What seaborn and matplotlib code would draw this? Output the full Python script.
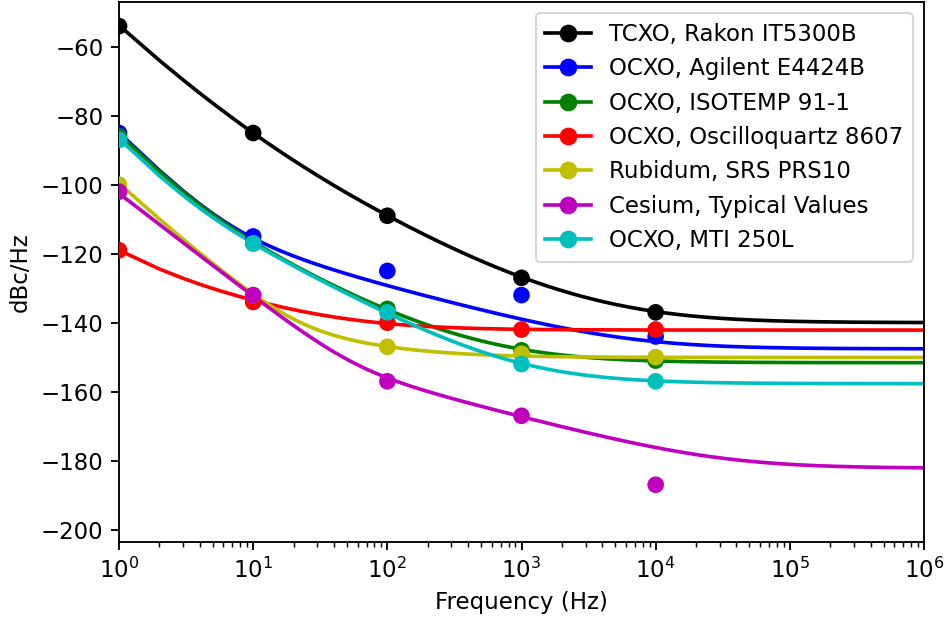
import numpy as np
import pandas as pd
import matplotlib
matplotlib.use("Agg")
import matplotlib.pyplot as plt
from matplotlib.lines import Line2D
import seaborn as sns

# ---------------- data ----------------
freq_points = [1, 10, 100, 1000, 10000]

labels = ["TCXO, Rakon IT5300B", "OCXO, Agilent E4424B", "OCXO, ISOTEMP 91-1",
          "OCXO, Oscilloquartz 8607", "Rubidum, SRS PRS10",
          "Cesium, Typical Values", "OCXO, MTI 250L"]
colors = ["k", "b", "g", "r", "y", "m", "c"]

# measured phase noise (dBc/Hz) at freq_points
tcxo_rakon = [-54, -85, -109, -127, -137]
ocxo_agilent = [-85, -115, -125, -132, -144]
ocxo_isotemp = [-86, -117, -136, -148, -151]
ocxo_oscilloquartz = [-119, -134, -140, -142, -142]
rubidium_srs = [-100, -132, -147, -149, -150]
cesium_typical = [-102, -132, -157, -167, -187]
ocxo_mti = [-87, -117, -137, -152, -157]

# fitted power-law noise model coefficients h0..h4:
# L(f) = 10*log10(h0 + h1/f + h2/f^2 + h3/f^3 + h4/f^4)
tcxo_rakon_fit = [1.0e-14, 1.0e-10, 9.8e-8, 1.96e-6, 2.14e-6]
ocxo_agilent_fit = [1.74e-15, 1.08e-11, 9.0e-11, 5.8e-10, 2.57e-9]
ocxo_isotemp_fit = [6.9e-16, 8.6e-13, 1.4e-10, 5.3e-10, 2.22e-9]
ocxo_oscilloquartz_fit = [6.1e-15, 3.25e-13, 6.0e-13, 3.3e-13, 0.0]
rubidium_srs_fit = [9.8e-16, 1.0e-13, 0.0, 5.1e-11, 5.9e-11]
cesium_typical_fit = [6.0e-19, 1.8e-14, 1.4e-13, 5.6e-11, 0.0]
ocxo_mti_fit = [1.7e-16, 3.4e-13, 1.5e-10, 3.0e-10, 1.7e-9]

measured = [tcxo_rakon, ocxo_agilent, ocxo_isotemp, ocxo_oscilloquartz,
            rubidium_srs, cesium_typical, ocxo_mti]
fits = [tcxo_rakon_fit, ocxo_agilent_fit, ocxo_isotemp_fit, ocxo_oscilloquartz_fit,
        rubidium_srs_fit, cesium_typical_fit, ocxo_mti_fit]

# ---------------- tables ----------------
curve_freq = np.unique(np.concatenate([np.arange(1, 1000, dtype=float),
                                       np.logspace(3, 6, 400)]))
pt_rows = []
curve_frames = []
for lab, vals, h in zip(labels, measured, fits):
    for f, v in zip(freq_points, vals):
        pt_rows.append({"freq": f, "level": v, "label": lab})
    power = sum(hk * curve_freq ** (-k) for k, hk in enumerate(h))
    curve_frames.append(pd.DataFrame({"freq": curve_freq,
                                      "level": 10 * np.log10(power),
                                      "label": lab}))
points = pd.DataFrame(pt_rows)
curves = pd.concat(curve_frames, ignore_index=True)
palette = dict(zip(labels, colors))

# ---------------- figure ----------------
FS = 11
plt.rcParams.update({
    "xtick.major.size": 4.0, "ytick.major.size": 4.0,
    "xtick.minor.size": 2.3, "ytick.minor.size": 2.3,
    "xtick.major.width": 0.9, "ytick.major.width": 0.9,
    "xtick.minor.width": 0.7, "axes.linewidth": 0.9,
})
fig = plt.figure(figsize=(947 / 150, 619 / 150), dpi=150)
ax = fig.add_axes([0.1257, 0.1244, 0.9757 - 0.1257, 0.9968 - 0.1244])

sns.lineplot(data=curves, x="freq", y="level", hue="label", hue_order=labels,
             palette=palette, estimator=None, sort=False, legend=False,
             linewidth=1.75, ax=ax)
sns.scatterplot(data=points, x="freq", y="level", hue="label", hue_order=labels,
                palette=palette, s=64, linewidth=0, legend=False, zorder=3, ax=ax)

ax.set_xscale("log")
ax.set_xlim(1, 1e6)
ax.set_ylim(-203.6, -47.0)
ax.set_yticks(np.arange(-200, -59, 20))
ax.set_xlabel("Frequency (Hz)", fontsize=FS)
ax.set_ylabel("dBc/Hz", fontsize=FS)
ax.tick_params(labelsize=FS)

handles = [Line2D([], [], color=c, marker="o", markersize=7.5, linewidth=1.75)
           for c in colors]
ax.legend(handles, labels, loc="upper right", fontsize=FS)

fig.savefig("out.png", dpi=150)
